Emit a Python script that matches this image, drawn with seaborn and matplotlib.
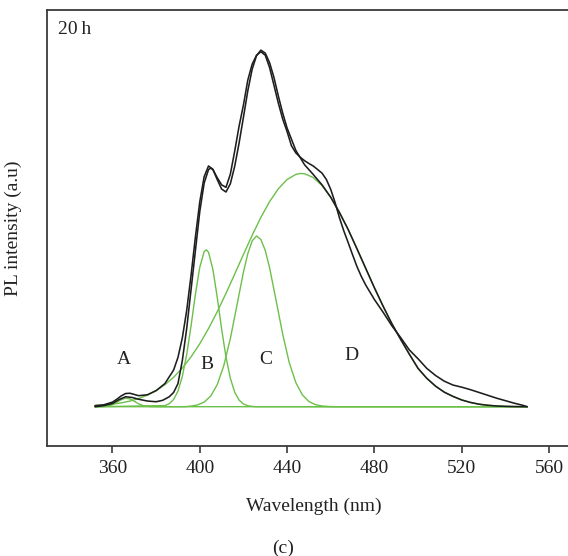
import matplotlib
matplotlib.use("Agg")
import matplotlib.pyplot as plt
import seaborn as sns
import pandas as pd

# ---- data ----
exp_nm = [352, 356, 360, 363, 366, 369, 372, 376, 380, 383, 386, 388, 390, 392, 394, 396, 398, 400,
          402, 404, 405, 406, 408, 410, 412, 414, 416, 418, 420, 422, 424, 426, 428, 430, 432, 434,
          436, 438, 440, 442, 444, 446, 448, 450, 452, 454, 456, 458, 460, 462, 464, 466, 468, 470,
          472, 474, 476, 480, 484, 488, 492, 496, 500, 504, 508, 512, 516, 520, 524, 528, 532, 536,
          540, 544, 548, 550]
exp_val = [0.0, 0.003, 0.009, 0.02, 0.028, 0.026, 0.021, 0.016, 0.014, 0.018, 0.028, 0.04, 0.065,
           0.13, 0.22, 0.33, 0.44, 0.55, 0.63, 0.668, 0.672, 0.668, 0.645, 0.625, 0.618, 0.655,
           0.72, 0.79, 0.85, 0.92, 0.965, 0.99, 1.0, 0.99, 0.955, 0.905, 0.855, 0.81, 0.775, 0.735,
           0.715, 0.703, 0.693, 0.685, 0.678, 0.668, 0.658, 0.64, 0.612, 0.575, 0.532, 0.495, 0.462,
           0.428, 0.395, 0.367, 0.343, 0.302, 0.266, 0.228, 0.195, 0.16, 0.135, 0.108, 0.088, 0.072,
           0.061, 0.055, 0.048, 0.04, 0.032, 0.024, 0.017, 0.01, 0.004, 0.0]

fit_nm = [352, 356, 360, 362, 364, 366, 368, 370, 372, 376, 380, 384, 388, 390, 392, 394, 396, 398,
          400, 402, 404, 406, 408, 410, 412, 414, 416, 418, 420, 422, 424, 426, 428, 430, 432, 434,
          436, 438, 440, 444, 448, 452, 456, 460, 464, 468, 472, 476, 480, 484, 488, 492, 496, 500,
          504, 508, 512, 516, 520, 524, 528, 532, 536, 540, 544, 550]
fit_val = [0.003, 0.0053, 0.0129, 0.0211, 0.0304, 0.0371, 0.0379, 0.0345, 0.031, 0.0336, 0.0453,
           0.065, 0.1032, 0.1388, 0.1939, 0.271, 0.370, 0.4785, 0.5773, 0.6479, 0.6781, 0.6687,
           0.6398, 0.6132, 0.6048, 0.628, 0.6774, 0.7426, 0.8155, 0.8898, 0.9508, 0.989, 1.0044,
           0.996, 0.9688, 0.927, 0.875, 0.827, 0.785, 0.722, 0.6816, 0.654, 0.625, 0.590, 0.547,
           0.499, 0.445, 0.390, 0.335, 0.283, 0.234, 0.190, 0.148, 0.108, 0.080, 0.058, 0.041,
           0.029, 0.019, 0.012, 0.007, 0.004, 0.002, 0.001, 0.0004, 0.0]

a_nm = [352, 354, 356, 358, 360, 362, 364, 366, 368, 370, 372, 374, 376, 378, 380, 550]
a_val = [0.0, 0.0001, 0.0006, 0.0021, 0.0058, 0.0123, 0.0197, 0.0239, 0.022, 0.0153, 0.0081,
         0.0032, 0.001, 0.0002, 0.0, 0.0]

b_nm = [352, 384, 386, 388, 390, 392, 394, 396, 398, 400, 402, 403, 404, 406, 408, 410, 412, 414,
        416, 418, 420, 422, 424, 426, 550]
b_val = [0.0, 0.0031, 0.0084, 0.0203, 0.0438, 0.085, 0.147, 0.228, 0.317, 0.393, 0.437, 0.442,
         0.435, 0.387, 0.308, 0.219, 0.140, 0.080, 0.0408, 0.0186, 0.0076, 0.0028, 0.0009, 0.0, 0.0]

c_nm = [352, 393, 396, 399, 402, 405, 408, 411, 414, 417, 420, 422, 424, 426, 428, 430, 432, 435,
        438, 441, 444, 447, 450, 453, 456, 459, 462, 550]
c_val = [0.0, 0.0, 0.0017, 0.005, 0.0129, 0.03, 0.0622, 0.1156, 0.192, 0.285, 0.379, 0.431, 0.467,
         0.481, 0.471, 0.440, 0.391, 0.298, 0.204, 0.124, 0.068, 0.0333, 0.0146, 0.0057, 0.002,
         0.0006, 0.0, 0.0]

d_nm = [352, 356, 360, 364, 368, 372, 376, 380, 384, 388, 392, 396, 400, 404, 408, 412, 416, 420,
        424, 428, 432, 436, 440, 444, 446, 448, 452, 456, 460, 464, 468, 472, 476, 480, 484, 488,
        492, 496, 500, 504, 508, 512, 516, 520, 524, 528, 532, 536, 540, 544, 548, 550]
d_val = [0.003, 0.0047, 0.0071, 0.0107, 0.0159, 0.0229, 0.0326, 0.0453, 0.0619, 0.0829, 0.1089,
         0.1404, 0.1774, 0.2201, 0.2676, 0.3193, 0.3736, 0.4289, 0.4829, 0.5334, 0.5778, 0.614,
         0.640, 0.6543, 0.657, 0.6562, 0.6456, 0.6229, 0.5896, 0.5474, 0.4985, 0.4453, 0.3902,
         0.3353, 0.2827, 0.2338, 0.1897, 0.148, 0.108, 0.080, 0.058, 0.041, 0.029, 0.019, 0.012,
         0.007, 0.004, 0.002, 0.001, 0.0004, 0.0, 0.0]

peak_labels = ["A", "B", "C", "D"]
peak_label_x = [365.2, 403.2, 430.2, 469.6]
peak_label_y = [0.132, 0.118, 0.132, 0.143]
x_ticks = [360, 400, 440, 480, 520, 560]

# ---- style ----
sns.set_theme(style="white")
plt.rcParams["font.family"] = ["Liberation Serif", "DejaVu Serif"]
plt.rcParams["axes.edgecolor"] = "#3a3a3a"

fig = plt.figure(figsize=(5.68, 5.56), dpi=100)
ax = fig.add_axes([47 / 568, (556 - 446) / 556, 533 / 568, 436 / 556])

green = "#6cc04a"
black = "#1e1e1e"

def frame(nm, val):
    return pd.DataFrame({"nm": nm, "val": val})

for nm, val in [(a_nm, a_val), (b_nm, b_val), (c_nm, c_val), (d_nm, d_val)]:
    sns.lineplot(data=frame(nm, val), x="nm", y="val", ax=ax, color=green, lw=1.0,
                 sort=False, estimator=None)
sns.lineplot(data=frame(fit_nm, fit_val), x="nm", y="val", ax=ax, color=black, lw=1.15,
             sort=False, estimator=None)
sns.lineplot(data=frame(exp_nm, exp_val), x="nm", y="val", ax=ax, color=black, lw=1.15,
             sort=False, estimator=None)

for lab, lx, ly in zip(peak_labels, peak_label_x, peak_label_y):
    ax.text(lx, ly, lab, fontsize=14, ha="center", va="center", color="#222222")

ax.text(0.02, 0.955, "20\u2009h", transform=ax.transAxes, fontsize=14, ha="left", va="center",
        color="#222222")

ax.set_xlim(330, 574.2)
ax.set_ylim(-0.1107, 1.1175)
ax.set_xticks(x_ticks)
ax.set_xticklabels([str(t) for t in x_ticks])
ax.set_yticks([])
ax.tick_params(axis="x", direction="out", length=5, width=1.2, color="#3a3a3a",
               labelsize=14, pad=5, bottom=True, labelcolor="#222222")
for side in ["left", "top", "bottom"]:
    ax.spines[side].set_linewidth(1.3)
ax.spines["right"].set_visible(False)

ax.set_xlabel("Wavelength (nm)", fontsize=14, color="#222222")
ax.set_ylabel("PL intensity (a.u)", fontsize=14, color="#222222")
ax.xaxis.set_label_coords(0.5, -0.118)
ax.yaxis.set_label_coords(-0.047, 0.5)

fig.text(283 / 568, 1 - 548 / 556, "(c)", fontsize=14, ha="center", va="center", color="#222222")

fig.savefig("out.png", dpi=100)
